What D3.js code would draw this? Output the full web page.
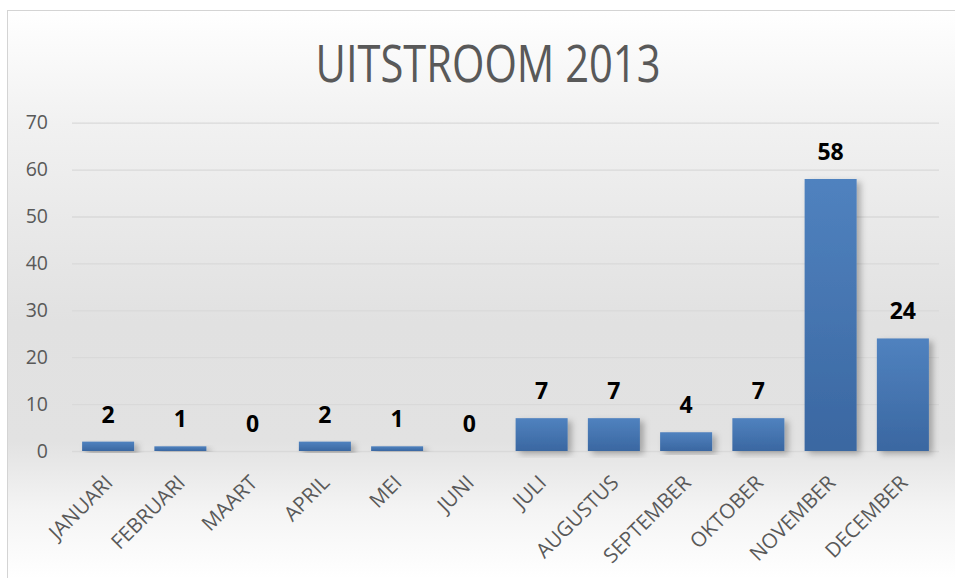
<!DOCTYPE html>
<html><head><meta charset="utf-8">
<script src="https://cdn.jsdelivr.net/npm/d3@7"></script>
<style>html,body{margin:0;padding:0;background:#fff;}svg{display:block;}</style>
</head><body>
<svg id="chart" width="955" height="578"></svg>
<script>
const months = ["JANUARI","FEBRUARI","MAART","APRIL","MEI","JUNI","JULI","AUGUSTUS","SEPTEMBER","OKTOBER","NOVEMBER","DECEMBER"];
const values = [2,1,0,2,1,0,7,7,4,7,58,24];
const yTicks = [0,10,20,30,40,50,60,70];
const title = "UITSTROOM 2013";

(function(){
const W = 955, H = 578;
const svg = d3.select("#chart");
const defs = svg.append("defs");

const bg = defs.append("linearGradient").attr("id","bg")
  .attr("gradientUnits","userSpaceOnUse").attr("y1",10).attr("y2",578).attr("x1",0).attr("x2",0);
bg.append("stop").attr("offset","0%").attr("stop-color","#ffffff");
bg.append("stop").attr("offset","20%").attr("stop-color","#f1f1f1");
bg.append("stop").attr("offset","55%").attr("stop-color","#e1e1e1");
bg.append("stop").attr("offset","76%").attr("stop-color","#e2e2e2");
bg.append("stop").attr("offset","88%").attr("stop-color","#f4f4f4");
bg.append("stop").attr("offset","100%").attr("stop-color","#ffffff");

const bar = defs.append("linearGradient").attr("id","bar").attr("x1",0).attr("y1",0).attr("x2",0).attr("y2",1);
bar.append("stop").attr("offset","0%").attr("stop-color","#5082bf");
bar.append("stop").attr("offset","100%").attr("stop-color","#3a67a1");

const sh = defs.append("filter").attr("id","shadow").attr("x","-20%").attr("y","-10%").attr("width","160%").attr("height","130%");
sh.append("feDropShadow").attr("dx",4).attr("dy",3).attr("stdDeviation",3).attr("flood-color","#000").attr("flood-opacity",0.28);

svg.append("rect").attr("x",7.5).attr("y",10.5).attr("width",W+20).attr("height",H+20)
  .attr("fill","url(#bg)").attr("stroke","#d4d4d4").attr("stroke-width",1);

const pLeft = 72, pRight = 939, pTop = 122.7, pBottom = 451;
const x = d3.scaleBand().domain(months).range([pLeft,pRight]).paddingInner(0.28).paddingOuter(0.14);
const y = d3.scaleLinear().domain([0,70]).range([pBottom,pTop]);

const font = "'Open Sans', sans-serif";

svg.append("text").attr("x",488).attr("y",81.5).attr("text-anchor","middle")
  .attr("font-family",font).attr("font-size",51).attr("fill","#595959")
  .attr("textLength",345).attr("lengthAdjust","spacingAndGlyphs").text(title);

const yAxis = d3.axisLeft(y).tickValues(yTicks).tickSize(-(pRight-pLeft)).tickPadding(24).tickFormat(d3.format("d"));
const gy = svg.append("g").attr("transform",`translate(${pLeft},0)`).call(yAxis);
gy.select(".domain").remove();
gy.selectAll(".tick line").attr("stroke","#d9d9d9").attr("stroke-width",1.3);
gy.selectAll(".tick text").attr("font-family",font).attr("font-size",19.5).attr("fill","#595959").attr("x",-24);

svg.append("g").selectAll("rect").data(values).join("rect")
  .attr("x",(d,i)=>x(months[i])).attr("width",x.bandwidth())
  .attr("y",d=>y(d)).attr("height",d=>pBottom-y(d))
  .attr("fill","url(#bar)").attr("filter",d=>d>0?"url(#shadow)":null);

svg.append("g").selectAll("text").data(values).join("text")
  .attr("x",(d,i)=>x(months[i])+x.bandwidth()/2).attr("y",d=>y(d)-19)
  .attr("text-anchor","middle").attr("font-family",font).attr("font-weight","bold")
  .attr("font-size",23).attr("fill","#000").text(d=>d);

const xAxis = d3.axisBottom(x).tickSize(0).tickPadding(0);
const gx = svg.append("g").attr("transform",`translate(0,${pBottom})`).call(xAxis);
gx.select(".domain").remove();
gx.selectAll(".tick text").attr("font-family",font).attr("font-size",20.5).attr("fill","#595959")
  .attr("text-anchor","end").attr("dy",0).attr("y",0)
  .attr("transform","translate(6,33) rotate(-45)");
})();
</script>
</body></html>
